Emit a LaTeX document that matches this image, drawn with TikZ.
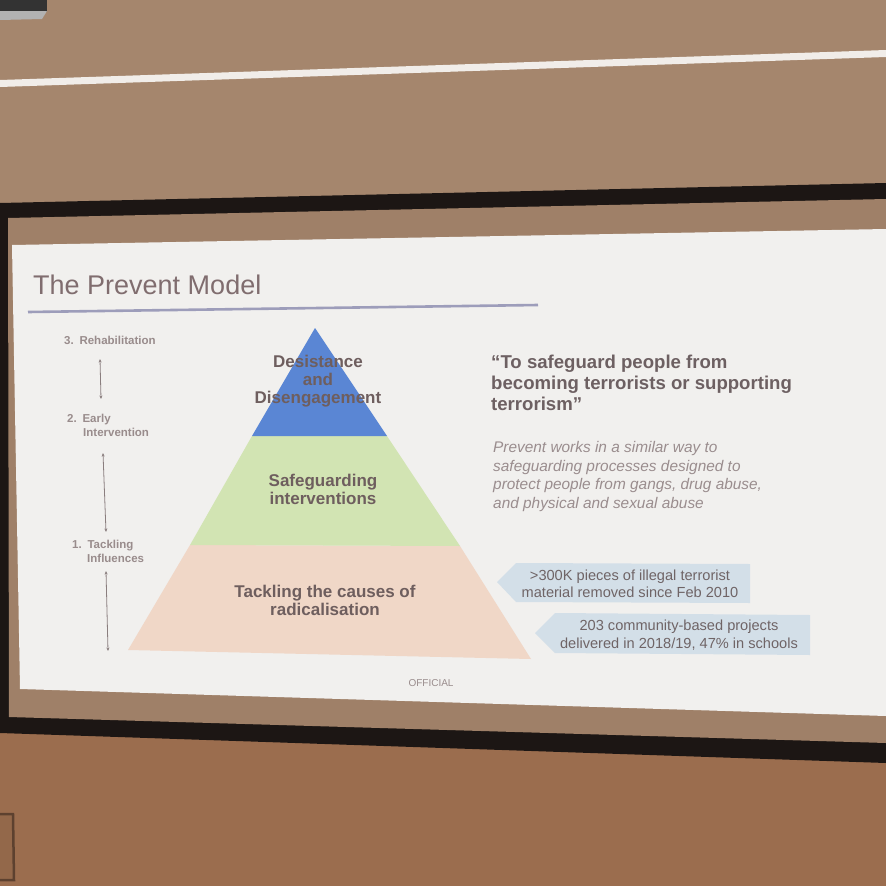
\documentclass[tikz,border=0pt]{standalone}
\usepackage{fontspec}
\setmainfont{Liberation Sans}
\usetikzlibrary{arrows.meta}
\definecolor{wallTop}{HTML}{A5866D}
\definecolor{wallBot}{HTML}{9B6D4E}
\definecolor{screenIn}{HTML}{9F8068}
\definecolor{frameC}{HTML}{1C1614}
\definecolor{slideC}{HTML}{F1F0EE}
\definecolor{titleC}{HTML}{806D6F}
\definecolor{ruleC}{HTML}{9D9DBA}
\definecolor{labC}{HTML}{998C8C}
\definecolor{pyrC}{HTML}{6E5E5E}
\definecolor{quoteC}{HTML}{6D6062}
\definecolor{italC}{HTML}{9A8D8E}
\definecolor{blueC}{HTML}{5A86D4}
\definecolor{greenC}{HTML}{D2E4B3}
\definecolor{peachC}{HTML}{F0D7C7}
\definecolor{calloutC}{HTML}{D3DFE8}
\definecolor{calltxtC}{HTML}{6F6466}
\tikzset{
  x=1pt, y=-1pt,
  lab/.style={font=\bfseries\fontsize{11.5}{13.5}\selectfont, text=labC, align=left, inner sep=0pt},
  pyr/.style={font=\bfseries\fontsize{17}{18}\selectfont, text=pyrC, align=center, inner sep=0pt},
  ctext/.style={font=\fontsize{14.6}{17.5}\selectfont, text=calltxtC, align=center, inner sep=0pt},
  dbl/.style={draw=labC!90!black, line width=0.8pt, {Stealth[length=3.5pt,width=3pt]}-{Stealth[length=3.5pt,width=3pt]}},
}
\begin{document}
\begin{tikzpicture}
\useasboundingbox (0,0) rectangle (886,886);
% wall
\fill[wallTop] (0,0) rectangle (886,886);
\fill[wallBot] (0,730) -- (886,758) -- (886,886) -- (0,886) -- cycle;
% top-left object
\fill[black!80] (0,0) rectangle (47,12);
\fill[gray!60] (0,11) -- (47,11) -- (42,19) -- (0,20) -- cycle;
% rail
\fill[white!85!wallTop] (0,80) -- (886,50) -- (886,57) -- (0,87) -- cycle;
% screen frame
\fill[frameC] (0,203) -- (886,183) -- (886,763) -- (0,733) -- cycle;
\fill[screenIn] (8,218) -- (886,199) -- (886,743) -- (9,717) -- cycle;
% slide
\fill[slideC] (12,245) -- (886,229) -- (886,716) -- (20,689) -- cycle;
% bottom-left object
\draw[wallBot!60!black, line width=2.5pt, fill=wallBot!95!black] (-2,814) -- (13,814) -- (14,880) -- (-2,880);
% title
\node[anchor=base west, font=\fontsize{27}{30}\selectfont, text=titleC, inner sep=0pt] (title) at (33,294) {The Prevent Model};
\draw[ruleC, line width=2.6pt] (28,312) -- (538,305);
% left labels
\node[lab, anchor=base west] (rehab) at (64,344) {3.\enspace Rehabilitation};
\node[lab, anchor=base west] (early) at (67,436) {2.\enspace Early\\\hspace*{16pt}Intervention};
\node[lab, anchor=base west] (tack) at (72,562) {1.\enspace Tackling\\\hspace*{15pt}Influences};
\coordinate (a1) at (100,359);
\coordinate (a2) at (101,399);
\coordinate (b1) at (103,453);
\coordinate (b2) at (106,532);
\coordinate (c1) at (106,571);
\coordinate (c2) at (108,651);
\draw[dbl] (a1) -- (a2);
\draw[dbl] (b1) -- (b2);
\draw[dbl] (c1) -- (c2);
% pyramid
\fill[peachC] (190,545) -- (460,546) -- (531,659) -- (128,650) -- cycle;
\fill[greenC] (252,436) -- (387,436) -- (460,546) -- (190,545) -- cycle;
\fill[blueC] (315,328) -- (387,436) -- (252,436) -- cycle;
\node[pyr] (top) at (318,381) {Desistance\\and\\Disengagement};
\node[pyr] (mid) at (323,489) {Safeguarding\\interventions};
\node[pyr] (bot) at (325,600) {Tackling the causes of\\radicalisation};
% quote
\node[anchor=north west, font=\bfseries\fontsize{18.6}{21}\selectfont, text=quoteC, align=left, inner sep=0pt] (quote) at (491,355) {“To safeguard people from\\becoming terrorists or supporting\\terrorism”};
\node[anchor=north west, font=\itshape\fontsize{15.4}{18.7}\selectfont, text=italC, align=left, inner sep=0pt] (para) at (493,441) {Prevent works in a similar way to\\safeguarding processes designed to\\protect people from gangs, drug abuse,\\and physical and sexual abuse};
% callouts
\fill[calloutC] (516,563) -- (750,564) -- (750,603) -- (516,602) -- (497,582) -- cycle;
\node[ctext] (c300) at (630,584) {>300K pieces of illegal terrorist\\material removed since Feb 2010};
\fill[calloutC] (555,613) -- (810,615) -- (810,655) -- (555,653) -- (535,633) -- cycle;
\node[ctext] (c203) at (679,635) {203 community-based projects\\delivered in 2018/19, 47\% in schools};
% official
\node[font=\fontsize{10}{12}\selectfont, text=labC, inner sep=0pt] (official) at (431,683) {OFFICIAL};
\end{tikzpicture}
\end{document}
